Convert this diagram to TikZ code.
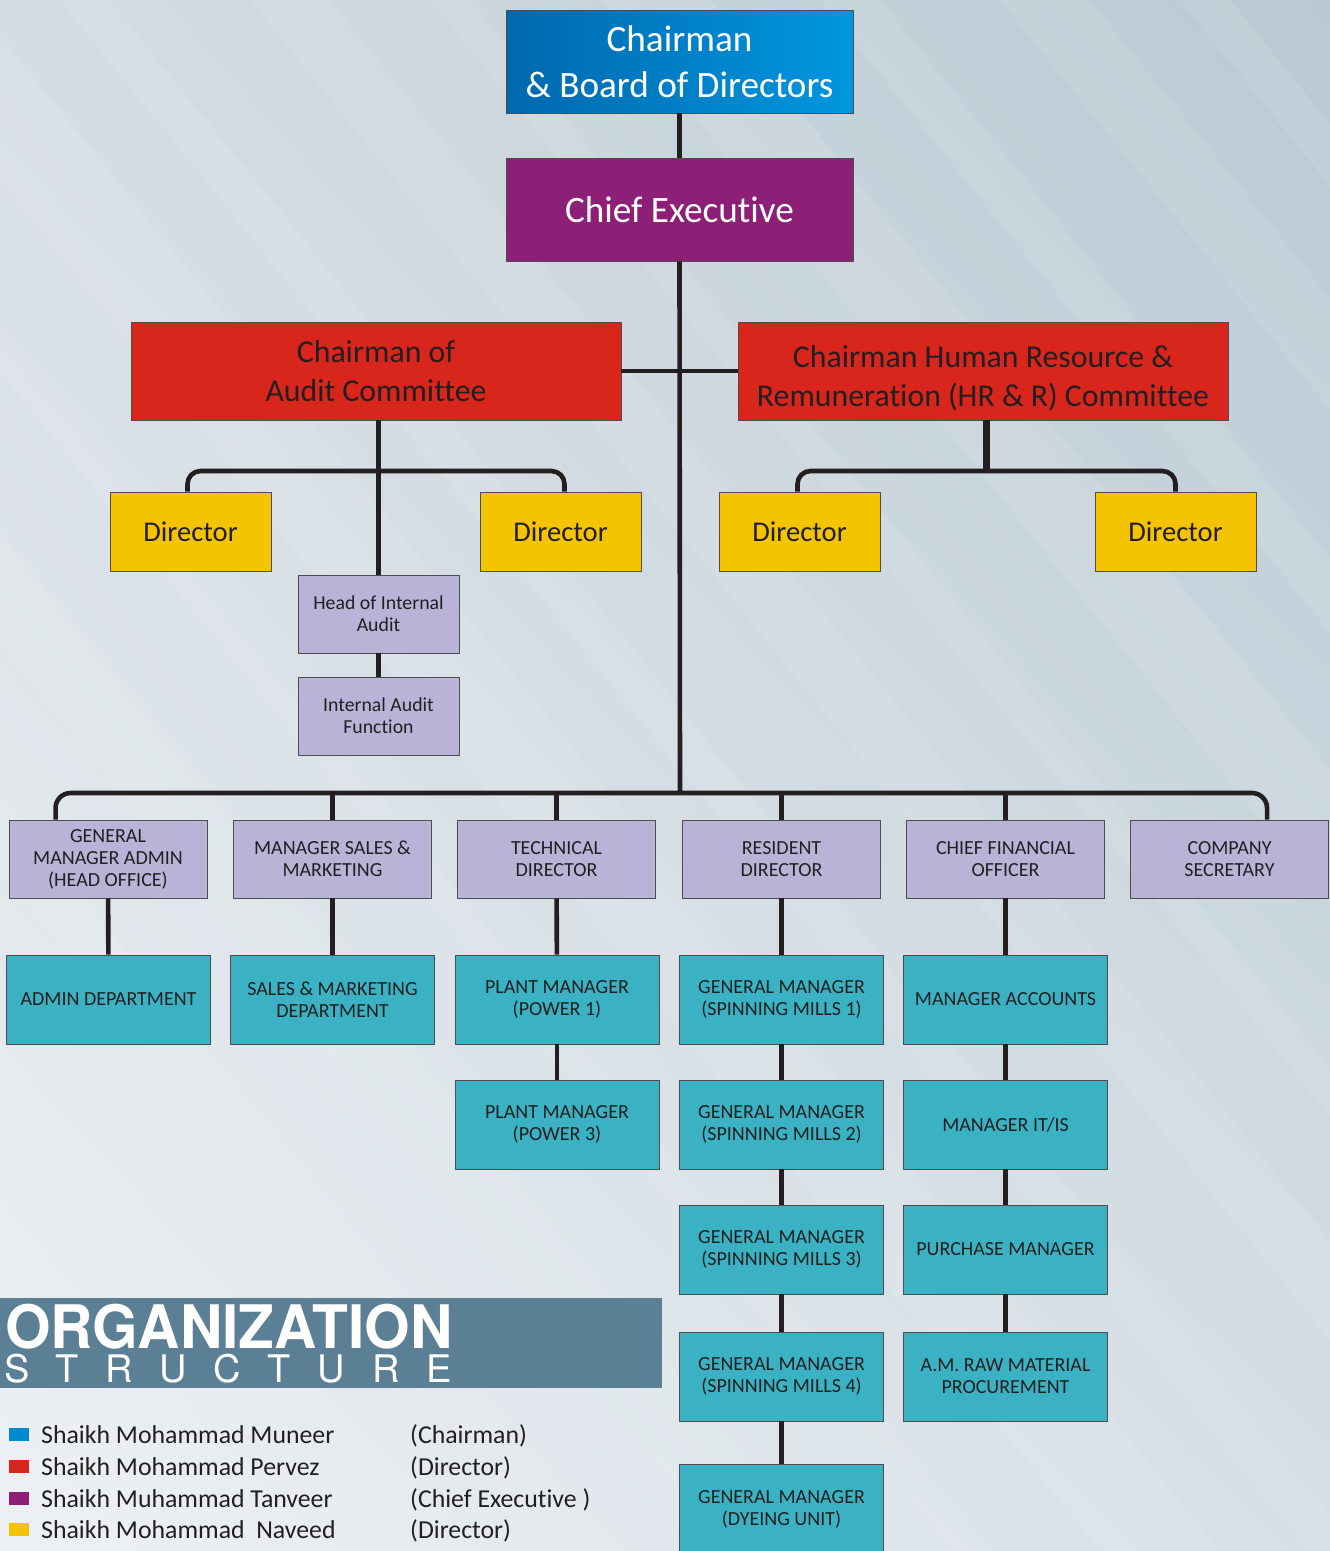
\documentclass[tikz,border=0pt]{standalone}
\usepackage{fontspec}
\usepackage{graphicx}
\usetikzlibrary{shadings}
\setmainfont{Carlito}[Ligatures={NoCommon}]
\newfontfamily\heros{TeX Gyre Heros}
\newfontfamily\herosspaced{TeX Gyre Heros}[LetterSpace=70.7]
\definecolor{ink}{HTML}{231F20}
\definecolor{cbL}{HTML}{0068AE}
\definecolor{cbR}{HTML}{0097DF}
\definecolor{ceP}{HTML}{8E1F76}
\definecolor{redB}{HTML}{D8261D}
\definecolor{yelB}{HTML}{F5C400}
\definecolor{lavB}{HTML}{B9B3D7}
\definecolor{tealB}{HTML}{3AB2C3}
\definecolor{bannerC}{HTML}{5B7F94}
\definecolor{legBlue}{HTML}{0088D1}
\definecolor{bgUL}{HTML}{D5DDE3}
\definecolor{bgUR}{HTML}{B9C9D3}
\definecolor{bgLL}{HTML}{EEF1F4}
\definecolor{bgLR}{HTML}{D6DFE6}
\tikzset{
  box/.style={draw=ink!80, line width=0.9pt, align=center, inner sep=0pt, text=ink},
  topbox/.style={box, minimum width=347pt, minimum height=103pt, text=white, font=\fontsize{37.2}{46}\selectfont},
  combox/.style={box, fill=redB, minimum width=490pt, minimum height=98pt, font=\fontsize{31.8}{39}\selectfont},
  dirbox/.style={box, fill=yelB, minimum width=161pt, minimum height=79pt, font=\fontsize{28.6}{34}\selectfont},
  iabox/.style={box, fill=lavB, minimum width=161pt, minimum height=78pt, font=\fontsize{19.8}{22}\selectfont},
  lavbox/.style={box, fill=lavB, minimum width=198pt, minimum height=78pt, font=\fontsize{20}{22}\selectfont},
  tealbox/.style={box, fill=tealB, minimum width=204pt, minimum height=89pt, font=\fontsize{20}{22}\selectfont},
  conn/.style={draw=ink, line width=4.6pt},
  legsq/.style={minimum width=20pt, minimum height=13pt, inner sep=0pt},
  legtxt/.style={anchor=base west, inner sep=0pt, text=ink, font=\fontsize{25.8}{30}\selectfont},
  stripe/.style={fill=white, opacity=0.09}
}
\begin{document}
\begin{tikzpicture}[x=1pt,y=-1pt]
\useasboundingbox (0,0) rectangle (1330,1551);
% background
\shade[upper left=bgUL, upper right=bgUR, lower left=bgLL, lower right=bgLR] (0,0) rectangle (1330,1551);
\foreach \s/\w in {-700/60,-520/90,-300/40,-150/120,60/50,250/80,430/40,600/110,820/60,1000/90,1180/50}{
  \fill[stripe] (\s,0) -- (\s+\w,0) -- (\s+\w+1250,1551) -- (\s+1250,1551) -- cycle;
}
% top
\node[topbox, left color=cbL, right color=cbR] (cb) at (679.5,61.5) {Chairman\\\& Board of Directors};
\node[topbox, fill=ceP] (ce) at (679.5,209.5) {Chief Executive};
% committees
\node[combox] (ac) at (376,371) {Chairman of\\Audit Committee};
\node[combox] (hr) at (983,371) {\rule{0pt}{36pt}Chairman Human Resource \&\\Remuneration (HR \& R) Committee};
% directors
\node[dirbox] (d1) at (190.5,531.5) {Director};
\node[dirbox] (d2) at (560.5,531.5) {Director};
\node[dirbox] (d3) at (799.5,531.5) {Director};
\node[dirbox] (d4) at (1175.5,531.5) {Director};
% internal audit
\node[iabox] (hia) at (378.5,614) {Head of Internal\\Audit};
\node[iabox] (iaf) at (378.5,716) {Internal Audit\\Function};
% second level row
\node[lavbox] (gm) at (108,859) {GENERAL\\MANAGER ADMIN\\(HEAD OFFICE)};
\node[lavbox] (msm) at (332.5,859) {MANAGER SALES \&\\MARKETING};
\node[lavbox] (td) at (556.5,859) {TECHNICAL\\DIRECTOR};
\node[lavbox] (rd) at (781.5,859) {RESIDENT\\DIRECTOR};
\node[lavbox] (cfo) at (1005.5,859) {CHIEF FINANCIAL\\OFFICER};
\node[lavbox] (cs) at (1229.5,859) {COMPANY\\SECRETARY};
% teal boxes
\node[tealbox] (adm) at (108.5,999.5) {ADMIN DEPARTMENT};
\node[tealbox] (smd) at (332.5,999.5) {SALES \& MARKETING\\DEPARTMENT};
\node[tealbox] (pm1) at (557,999.5) {PLANT MANAGER\\(POWER 1)};
\node[tealbox] (pm3) at (557,1124.5) {PLANT MANAGER\\(POWER 3)};
\node[tealbox] (sm1) at (781.5,999.5) {GENERAL MANAGER\\(SPINNING MILLS 1)};
\node[tealbox] (sm2) at (781.5,1124.5) {GENERAL MANAGER\\(SPINNING MILLS 2)};
\node[tealbox] (sm3) at (781.5,1249.5) {GENERAL MANAGER\\(SPINNING MILLS 3)};
\node[tealbox] (sm4) at (781.5,1376.5) {GENERAL MANAGER\\(SPINNING MILLS 4)};
\node[tealbox] (dye) at (781.5,1509) {GENERAL MANAGER\\(DYEING UNIT)};
\node[tealbox] (acc) at (1005.5,999.5) {MANAGER ACCOUNTS};
\node[tealbox] (itis) at (1005.5,1124.5) {MANAGER IT/IS};
\node[tealbox] (pur) at (1005.5,1249.5) {PURCHASE MANAGER};
\node[tealbox] (raw) at (1005.5,1376.5) {A.M. RAW MATERIAL\\PROCUREMENT};
% connectors
\coordinate (bus) at (680,793);
\coordinate (ab) at (378.5,471);
\coordinate (hb) at (986,471);
\draw[conn] (cb.south) -- (ce.north);
\draw[conn] (ce.south) -- (bus);
\draw[conn, line width=4pt] (ac.east) -- (hr.west);
\draw[conn] (hia.north |- ac.south) -- (hia.north);
\draw[conn, rounded corners=13pt] ([xshift=-3pt]d1.north) |- (ab) -| ([xshift=4pt]d2.north);
\draw[conn] (hia.south) -- (iaf.north);
\draw[conn, line width=7pt] (hb |- hr.south) -- ([yshift=2pt]hb);
\draw[conn, rounded corners=13pt] ([xshift=-2pt]d3.north) |- (hb) -| (d4.north);
\draw[conn, rounded corners=15pt] ([xshift=47pt]gm.north west) |- (bus) -| ([xshift=137pt]cs.north west);
\foreach \n in {msm,td,rd,cfo}{
  \draw[conn] (\n.north |- bus) -- (\n.north);
}
\draw[conn] (gm) -- (adm);
\draw[conn] (msm) -- (smd);
\draw[conn] (td) -- (pm1);
\draw[conn] (pm1) -- (pm3);
\draw[conn] (rd) -- (sm1);
\draw[conn] (sm1) -- (sm2);
\draw[conn] (sm2) -- (sm3);
\draw[conn] (sm3) -- (sm4);
\draw[conn] (sm4) -- (dye);
\draw[conn] (cfo) -- (acc);
\draw[conn] (acc) -- (itis);
\draw[conn] (itis) -- (pur);
\draw[conn] (pur) -- (raw);
% title banner
\node[fill=bannerC, minimum width=662pt, minimum height=90pt, inner sep=0pt, anchor=north west] (banner) at (0,1298) {};
\node[anchor=base west, inner sep=0pt, text=white, font=\heros\bfseries\fontsize{60}{60}\selectfont] (org) at (5,1348) {\scalebox{0.977}[1]{ORGANIZATION}};
\node[anchor=base west, inner sep=0pt, text=white, font=\herosspaced\fontsize{38}{38}\selectfont] (struct) at (4,1382) {STRUCTURE};
% legend
\node[legsq, fill=legBlue] (q1) at (19,1434) {};
\node[legsq, fill=redB] (q2) at (19,1466) {};
\node[legsq, fill=ceP] (q3) at (19,1498) {};
\node[legsq, fill=yelB] (q4) at (19,1529) {};
\node[legtxt] (n1) at (41,1443) {Shaikh Mohammad Muneer};
\node[legtxt] (n2) at (41,1475) {Shaikh Mohammad Pervez};
\node[legtxt] (n3) at (41,1507) {Shaikh Muhammad Tanveer};
\node[legtxt] (n4) at (41,1538) {Shaikh Mohammad\ \ Naveed};
\node[legtxt] (r1) at (410,1443) {(Chairman)};
\node[legtxt] (r2) at (410,1475) {(Director)};
\node[legtxt] (r3) at (410,1507) {(Chief Executive )};
\node[legtxt] (r4) at (410,1538) {(Director)};
\end{tikzpicture}
\end{document}
